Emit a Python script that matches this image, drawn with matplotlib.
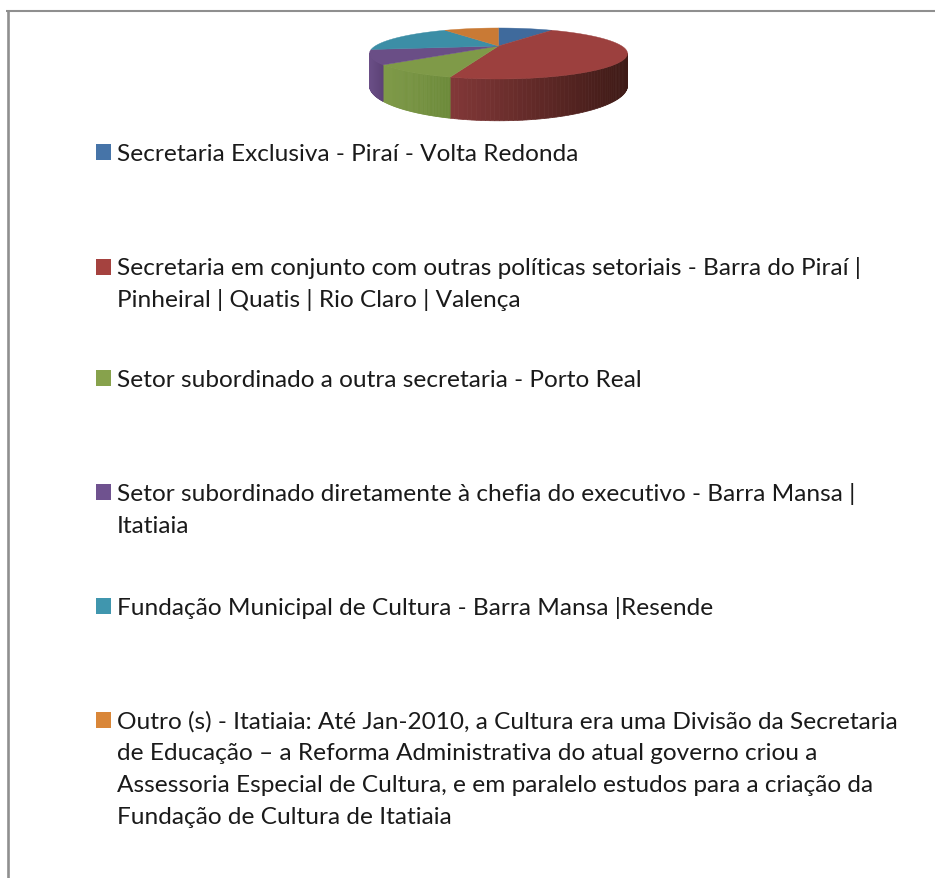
import numpy as np
import matplotlib
matplotlib.use('Agg')
import matplotlib.pyplot as plt
from matplotlib.patches import Polygon, Rectangle

plt.rcParams['font.family'] = ['Lato', 'DejaVu Sans']

# slice shares, clockwise from 12 o'clock
shares = [1, 5, 1, 1, 2, 1]
top_colors = ['#3f6a9c', '#9c403e', '#7f9a48', '#6a4e86', '#3c8ea6', '#c97a35']
wall_left = ['#3f6a9c', '#823838', '#7f9a48', '#6a4e86', '#3c8ea6', '#c97a35']
wall_right = ['#2c4a6e', '#3e1a16', '#6c8a3a', '#5c4276', '#2c6a7c', '#95592a']

legend_colors = ['#4674a8', '#a5423f', '#87a24c', '#6f528f', '#4096ae', '#d98638']
legend_lines = [
    ['Secretaria Exclusiva - Piraí - Volta Redonda'],
    ['Secretaria em conjunto com outras políticas setoriais - Barra do Piraí |',
     'Pinheiral | Quatis | Rio Claro | Valença'],
    ['Setor subordinado a outra secretaria - Porto Real'],
    ['Setor subordinado diretamente à chefia do executivo - Barra Mansa |',
     'Itatiaia'],
    ['Fundação Municipal de Cultura - Barra Mansa |Resende'],
    ['Outro (s) - Itatiaia: Até Jan-2010, a Cultura era uma Divisão da Secretaria',
     'de Educação – a Reforma Administrativa do atual governo criou a',
     'Assessoria Especial de Cultura, e em paralelo estudos para a criação da',
     'Fundação de Cultura de Itatiaia'],
]
legend_baselines = [161, 275.5, 387, 501, 615, 728.5]
line_step = 31.7

# pie projection (pixels)
cx, cy = 498.5, 47
A, B, k = 123.3, 23.3, 0.294
depth = 28.5


def project(theta, drop=0.0):
    u, v = np.sin(theta), np.cos(theta)
    w = 1 + k * v
    return cx + A * u / w, cy - B * v / w + drop * (1 + k) / w * 0.8


fig = plt.figure(figsize=(9.35, 8.79), dpi=100)
ax = fig.add_axes([0, 0, 1, 1])
ax.set_xlim(0, 935)
ax.set_ylim(879, 0)
ax.axis('off')

# frame
ax.plot([7.5, 7.5], [879, 11], color='#8f8f8f', lw=1.9, solid_capstyle='butt')
ax.plot([6, 935], [12, 12], color='#8f8f8f', lw=1.5, solid_capstyle='butt')

edges = np.cumsum([0] + shares) / sum(shares) * 2 * np.pi
vis_start, vis_end = np.arccos(-k), 2 * np.pi - np.arccos(-k)

# side walls, only the part facing the viewer
for i in range(len(shares)):
    lo, hi = max(edges[i], vis_start), min(edges[i + 1], vis_end)
    if lo >= hi:
        continue
    th = np.linspace(lo, hi, 60)
    x_a, x_b = sorted([project(lo)[0], project(hi)[0]])
    c0 = np.array(matplotlib.colors.to_rgb(wall_left[i]))
    c1 = np.array(matplotlib.colors.to_rgb(wall_right[i]))
    for t0, t1 in zip(th[:-1], th[1:]):
        x0, y0 = project(t0)
        x1, y1 = project(t1)
        x2, y2 = project(t1, depth)
        x3, y3 = project(t0, depth)
        frac = ((x0 + x1) / 2 - x_a) / (x_b - x_a)
        col = c0 * (1 - frac) + c1 * frac
        ax.add_patch(Polygon([(x0, y0), (x1, y1), (x2, y2), (x3, y3)],
                             facecolor=col, edgecolor=col, lw=0.5, zorder=2))

# top face
for i in range(len(shares)):
    th = np.linspace(edges[i], edges[i + 1], 80)
    xs, ys = project(th)
    pts = [(cx, cy)] + list(zip(xs, ys))
    ax.add_patch(Polygon(pts, facecolor=top_colors[i], edgecolor=top_colors[i],
                         lw=0.3, zorder=3))

# legend
for color, lines, base in zip(legend_colors, legend_lines, legend_baselines):
    ax.add_patch(Rectangle((96, base - 16), 15, 16, facecolor=color, edgecolor='none'))
    for n, line in enumerate(lines):
        ax.text(117, base + n * line_step, line, fontsize=17.6, color='#1a1a1a',
                ha='left', va='baseline')

fig.savefig('out.png', dpi=100, facecolor='white')
